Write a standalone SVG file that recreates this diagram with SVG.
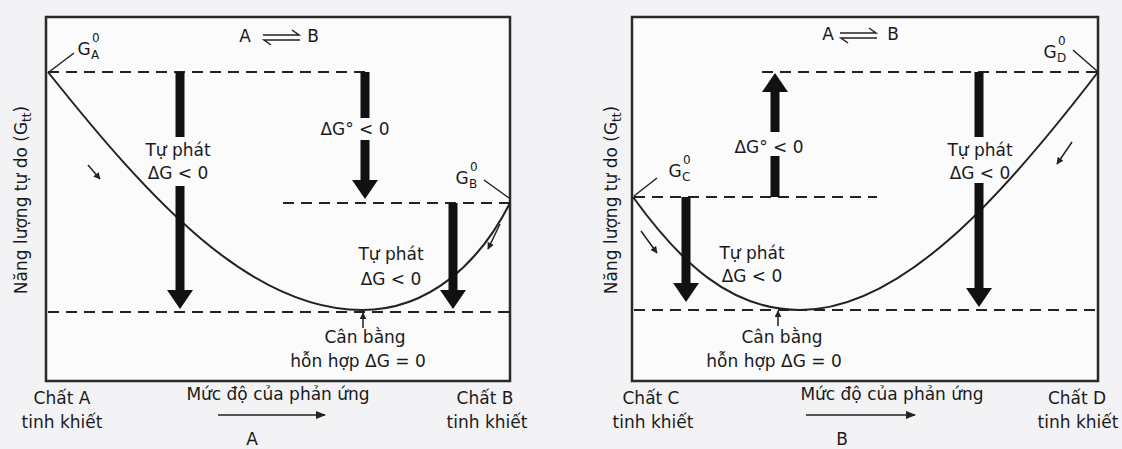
<svg xmlns="http://www.w3.org/2000/svg" width="1122" height="449" viewBox="0 0 1122 449">
<defs>
<style>
text{font-family:"DejaVu Sans","Liberation Sans",sans-serif;font-size:17px;fill:#1a1a1a}
.c{text-anchor:middle}
.box{fill:#fbfbfc;stroke:#2a2a2a;stroke-width:2.5}
.dash{stroke:#222;stroke-width:2;stroke-dasharray:11 7;fill:none}
.curve{stroke:#222;stroke-width:2;fill:none}
.shaft{stroke:#111;stroke-width:9;fill:none}
.head{fill:#111}
.thin{stroke:#222;stroke-width:1.5;fill:none}
.sm{font-size:12px}
</style>
<marker id="ah" viewBox="0 0 10 10" refX="9" refY="5" markerWidth="7" markerHeight="7" orient="auto" markerUnits="userSpaceOnUse">
<path d="M0,0 L10,5 L0,10 z" fill="#222"/>
</marker>
<marker id="ah2" viewBox="0 0 10 10" refX="9" refY="5" markerWidth="10" markerHeight="10" orient="auto" markerUnits="userSpaceOnUse">
<path d="M0,1 L10,5 L0,9 z" fill="#222"/>
</marker>
</defs>
<rect width="1122" height="449" fill="#f3f3f6"/>

<!-- Panel A -->
<g id="panelA-frame">
<rect class="box" x="46" y="17" width="464" height="364"/>
</g>
<g id="panelA-levels">
<line class="dash" x1="48" y1="72" x2="372" y2="72"/>
<line class="dash" x1="283" y1="203" x2="510" y2="203"/>
<line class="dash" x1="48" y1="312" x2="510" y2="312"/>
</g>
<g id="panelA-curve">
<path class="curve" d="M48,72 C150,200 250,310 362,310 C430,310 480,262 510,203"/>
</g>
<g id="panelA-title">
<text x="245" y="42" class="c">A</text>
<path class="thin" d="M263,35 H299 L292,30"/>
<path class="thin" d="M300,40 H264 L271,45"/>
<text x="313" y="42" class="c">B</text>
</g>
<g id="GA">
<text x="84" y="55" class="c">G</text>
<text x="92" y="42" class="sm">0</text>
<text x="91" y="59" class="sm">A</text>
<line class="thin" x1="49" y1="72" x2="74" y2="53"/>
</g>
<g id="GB">
<text x="462" y="184" class="c">G</text>
<text x="470" y="171" class="sm">0</text>
<text x="469" y="188" class="sm">B</text>
<line class="thin" x1="484" y1="180" x2="509" y2="198"/>
</g>
<g id="arrowA1">
<path class="shaft" d="M180,72 V137 M180,186 V292"/>
<path class="head" d="M167,290 L193,290 L180,309 z"/>
<text x="178" y="156" class="c">Tự phát</text>
<text x="178" y="179" class="c">ΔG &lt; 0</text>
</g>
<g id="arrowA2">
<path class="shaft" d="M365,72 V118 M365,140 V182"/>
<path class="head" d="M352,180 L378,180 L365,199 z"/>
<text x="355" y="135" class="c">ΔG° &lt; 0</text>
</g>
<g id="arrowA3">
<path class="shaft" d="M453,203 V292"/>
<path class="head" d="M440,290 L466,290 L453,309 z"/>
<text x="391" y="260" class="c">Tự phát</text>
<text x="391" y="285" class="c">ΔG &lt; 0</text>
</g>
<g id="connectorsA">
<line class="thin" x1="88" y1="165" x2="100" y2="179" marker-end="url(#ah)"/>
<line class="thin" x1="500" y1="224" x2="488" y2="249" marker-end="url(#ah)"/>
<line class="thin" x1="363" y1="328" x2="363" y2="313" marker-end="url(#ah)"/>
<line class="thin" x1="218" y1="415" x2="325" y2="415" stroke-width="2.2" marker-end="url(#ah2)"/>
</g>
<g id="panelA-labels">
<text x="365" y="343" class="c">Cân bằng</text>
<text x="358" y="367" class="c">hỗn hợp ΔG = 0</text>
<text x="62" y="404" class="c">Chất A</text>
<text x="62" y="428" class="c">tinh khiết</text>
<text x="278" y="400" class="c">Mức độ của phản ứng</text>
<text x="252" y="445" class="c">A</text>
<text x="485" y="404" class="c">Chất B</text>
<text x="487" y="428" class="c">tinh khiết</text>
<text x="27" y="200" class="c" transform="rotate(-90 27 200)">Năng lượng tự do (G<tspan class="sm" dy="4">tt</tspan><tspan dy="-4">)</tspan></text>
</g>

<!-- Panel B -->
<g id="panelB-frame">
<rect class="box" x="632" y="17" width="466" height="364"/>
</g>
<g id="panelB-levels">
<line class="dash" x1="762" y1="72" x2="1098" y2="72"/>
<line class="dash" x1="634" y1="197" x2="877" y2="197"/>
<line class="dash" x1="634" y1="310" x2="1098" y2="310"/>
</g>
<g id="panelB-curve">
<path class="curve" d="M633,197 C680,262 730,310 800,310 C900,310 1000,200 1098,72"/>
</g>
<g id="panelB-title">
<text x="828" y="40" class="c">A</text>
<path class="thin" d="M840,33 H876 L869,28"/>
<path class="thin" d="M877,38 H841 L848,43"/>
<text x="893" y="40" class="c">B</text>
</g>
<g id="GC">
<text x="675" y="177" class="c">G</text>
<text x="683" y="164" class="sm">0</text>
<text x="682" y="181" class="sm">C</text>
<line class="thin" x1="634" y1="196" x2="657" y2="178"/>
</g>
<g id="GD">
<text x="1050" y="58" class="c">G</text>
<text x="1058" y="45" class="sm">0</text>
<text x="1057" y="62" class="sm">D</text>
<line class="thin" x1="1073" y1="50" x2="1097" y2="71"/>
</g>
<g id="arrowB1">
<path class="head" d="M762,92 L788,92 L775,73 z"/>
<path class="shaft" d="M775,90 V132 M775,156 V197"/>
<text x="769" y="153" class="c">ΔG° &lt; 0</text>
</g>
<g id="arrowB2">
<path class="shaft" d="M979,72 V137 M979,183 V290"/>
<path class="head" d="M966,288 L992,288 L979,307 z"/>
<text x="980" y="156" class="c">Tự phát</text>
<text x="980" y="179" class="c">ΔG &lt; 0</text>
</g>
<g id="arrowB3">
<path class="shaft" d="M686,197 V285"/>
<path class="head" d="M673,283 L699,283 L686,302 z"/>
<text x="752" y="259" class="c">Tự phát</text>
<text x="752" y="282" class="c">ΔG &lt; 0</text>
</g>
<g id="connectorsB">
<line class="thin" x1="641" y1="231" x2="657" y2="253" marker-end="url(#ah)"/>
<line class="thin" x1="1072" y1="142" x2="1057" y2="164" marker-end="url(#ah)"/>
<line class="thin" x1="778" y1="326" x2="778" y2="311" marker-end="url(#ah)"/>
<line class="thin" x1="806" y1="415" x2="915" y2="415" stroke-width="2.2" marker-end="url(#ah2)"/>
</g>
<g id="panelB-labels">
<text x="782" y="343" class="c">Cân bằng</text>
<text x="774" y="367" class="c">hỗn hợp ΔG = 0</text>
<text x="651" y="404" class="c">Chất C</text>
<text x="653" y="428" class="c">tinh khiết</text>
<text x="892" y="400" class="c">Mức độ của phản ứng</text>
<text x="842" y="445" class="c">B</text>
<text x="1077" y="404" class="c">Chất D</text>
<text x="1078" y="428" class="c">tinh khiết</text>
<text x="617" y="200" class="c" transform="rotate(-90 617 200)">Năng lượng tự do (G<tspan class="sm" dy="4">tt</tspan><tspan dy="-4">)</tspan></text>
</g>
</svg>
